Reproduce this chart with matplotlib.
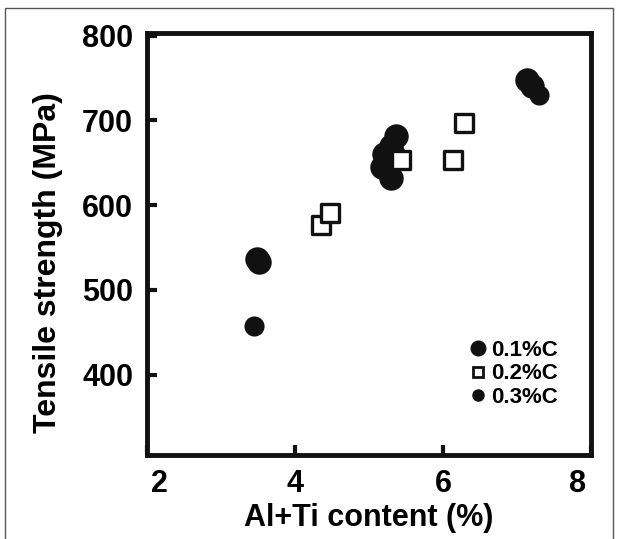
import matplotlib
matplotlib.use("Agg")
import matplotlib.pyplot as plt
from matplotlib.lines import Line2D
from matplotlib.patches import Rectangle
import matplotlib.transforms as mtransforms

plt.rcParams['font.family'] = ['Liberation Sans', 'DejaVu Sans']
plt.rcParams['font.weight'] = 'bold'

# Data
c01_x = [3.49, 3.51, 5.18, 5.24, 5.20, 5.30, 5.36, 5.30, 5.32, 7.13, 7.20]
c01_y = [536, 533, 645, 648, 660, 670, 681, 632, 660, 748, 740]
c02_x = [4.35, 4.47, 5.43, 6.14, 6.28]
c02_y = [576, 591, 653, 653, 697]
c03_x = [3.45, 5.25, 7.29]
c03_y = [457, 638, 730]
labels = ["0.1%C", "0.2%C", "0.3%C"]
xticks = [2, 4, 6, 8]
yticks = [400, 500, 600, 700, 800]

fig = plt.figure(figsize=(6.19, 5.39), dpi=100)
fig.patches.append(Rectangle((0.008, -0.01), 0.982, 0.995, transform=fig.transFigure,
                             fill=False, edgecolor='#555555', linewidth=1.0))
ax = fig.add_axes([0.2375, 0.1558, 0.7175, 0.783])

ax.scatter(c01_x, c01_y, s=310, c='#111111', marker='o', linewidths=0, zorder=3)
ax.scatter(c03_x, c03_y, s=210, c='#111111', marker='o', linewidths=0, zorder=3)
ax.scatter(c02_x, c02_y, s=150, facecolors='white', edgecolors='#111111', marker='s',
           linewidths=2.4, zorder=4)

ax.set_xlim(2.0, 8.0)
ax.set_ylim(305, 803)
ax.set_xticks(xticks)
ax.set_yticks(yticks)
ax.tick_params(direction='in', length=7, width=3, labelsize=22, pad=10, color='#111111')
for lab in ax.get_xticklabels() + ax.get_yticklabels():
    lab.set_fontweight('bold')
for sp in ax.spines.values():
    sp.set_linewidth(3.5)
    sp.set_color('#111111')

ax.set_xlabel("Al+Ti content (%)", fontsize=22, fontweight='bold', labelpad=3)
ax.set_ylabel("Tensile strength (MPa)", fontsize=23, fontweight='bold')
ax.yaxis.set_label_coords(-0.19, 0.455)

# shift end labels inward as in the reference
fig.canvas.draw()
xl = ax.get_xticklabels()
xl[0].set_transform(xl[0].get_transform() + mtransforms.ScaledTranslation(12/100, 0, fig.dpi_scale_trans))
xl[-1].set_transform(xl[-1].get_transform() + mtransforms.ScaledTranslation(-14/100, 0, fig.dpi_scale_trans))

handles = [
    Line2D([], [], marker='o', linestyle='none', markersize=10.5, color='#111111'),
    Line2D([], [], marker='s', linestyle='none', markersize=7, markerfacecolor='white',
           markeredgecolor='#111111', markeredgewidth=2),
    Line2D([], [], marker='o', linestyle='none', markersize=8, color='#111111'),
]
leg = ax.legend(handles, labels, loc='lower right', bbox_to_anchor=(0.945, 0.09),
                frameon=False, handlelength=0.6, handletextpad=0.3, labelspacing=0.12,
                prop={'size': 16, 'weight': 'bold'}, borderaxespad=0)

fig.savefig("out.png", dpi=100)
